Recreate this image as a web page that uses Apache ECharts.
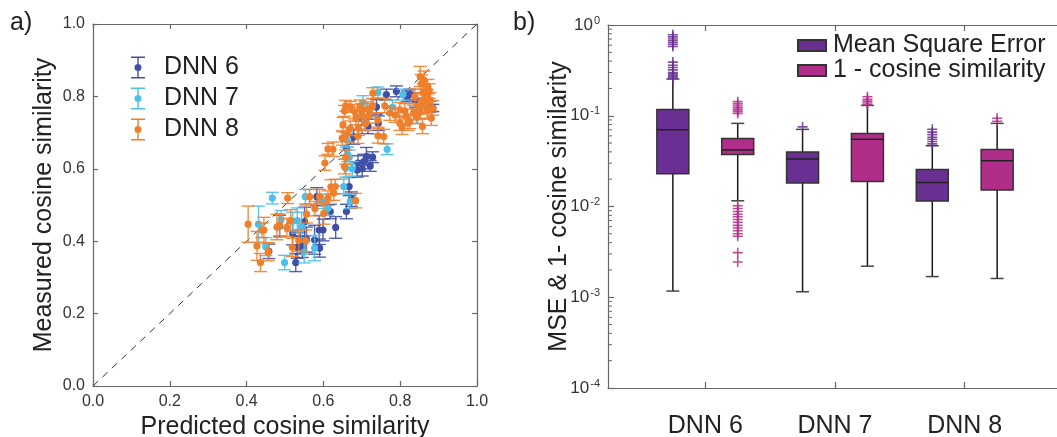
<!DOCTYPE html>
<html>
<head>
<meta charset="utf-8">
<script src="https://cdn.jsdelivr.net/npm/echarts@6/dist/echarts.min.js"></script>
<style>
html, body { margin: 0; padding: 0; background: #fff; }
#chart { width: 1057px; height: 437px; }
</style>
</head>
<body>
<div id="chart"></div>
<script>
// panel a) : [predicted, measured, error half-length]
const dnnNames = ['DNN 6', 'DNN 7', 'DNN 8'];
const dnn6 = [
  [0.486, 0.442, 0.03], [0.458, 0.372, 0.02], [0.528, 0.341, 0.025], [0.532, 0.383, 0.03],
  [0.540, 0.395, 0.03], [0.551, 0.454, 0.04], [0.556, 0.404, 0.035], [0.577, 0.404, 0.04],
  [0.589, 0.431, 0.04], [0.583, 0.523, 0.025], [0.599, 0.431, 0.03], [0.618, 0.482, 0.02],
  [0.632, 0.438, 0.03], [0.660, 0.482, 0.02], [0.673, 0.516, 0.02], [0.667, 0.551, 0.025],
  [0.688, 0.597, 0.02], [0.690, 0.616, 0.02], [0.701, 0.600, 0.02], [0.705, 0.620, 0.02],
  [0.712, 0.634, 0.025], [0.722, 0.608, 0.015], [0.660, 0.657, 0.02], [0.679, 0.688, 0.02],
  [0.716, 0.717, 0.02], [0.743, 0.726, 0.02], [0.738, 0.771, 0.02], [0.764, 0.805, 0.015],
  [0.790, 0.814, 0.015], [0.818, 0.800, 0.015], [0.825, 0.805, 0.015], [0.877, 0.772, 0.015],
  [0.885, 0.768, 0.01], [0.865, 0.775, 0.02], [0.840, 0.790, 0.02], [0.545, 0.385, 0.03],
  [0.590, 0.381, 0.025], [0.520, 0.420, 0.03], [0.700, 0.740, 0.02], [0.728, 0.632, 0.015]
];
const dnn7 = [
  [0.431, 0.447, 0.05], [0.467, 0.519, 0.016], [0.499, 0.341, 0.02], [0.532, 0.457, 0.035],
  [0.543, 0.440, 0.04], [0.577, 0.381, 0.035], [0.520, 0.455, 0.025], [0.450, 0.385, 0.025],
  [0.553, 0.523, 0.02], [0.612, 0.491, 0.02], [0.600, 0.510, 0.02], [0.653, 0.551, 0.02],
  [0.670, 0.510, 0.02], [0.658, 0.602, 0.025], [0.667, 0.632, 0.02], [0.675, 0.600, 0.02],
  [0.663, 0.640, 0.02], [0.708, 0.728, 0.02], [0.703, 0.782, 0.02], [0.742, 0.811, 0.015],
  [0.766, 0.654, 0.015], [0.807, 0.805, 0.015], [0.842, 0.745, 0.02], [0.720, 0.760, 0.02],
  [0.780, 0.770, 0.02], [0.860, 0.790, 0.02], [0.660, 0.680, 0.02], [0.490, 0.460, 0.025],
  [0.550, 0.370, 0.03], [0.700, 0.750, 0.02]
];
const dnn8 = [
  [0.404, 0.447, 0.05], [0.427, 0.387, 0.04], [0.436, 0.341, 0.025], [0.445, 0.431, 0.035],
  [0.456, 0.371, 0.025], [0.479, 0.439, 0.035], [0.486, 0.445, 0.03], [0.505, 0.438, 0.025],
  [0.507, 0.519, 0.015], [0.515, 0.457, 0.03], [0.519, 0.383, 0.025], [0.536, 0.402, 0.03],
  [0.554, 0.401, 0.03], [0.556, 0.475, 0.025], [0.564, 0.523, 0.02], [0.590, 0.523, 0.02],
  [0.601, 0.477, 0.03], [0.612, 0.519, 0.02], [0.627, 0.533, 0.02], [0.631, 0.551, 0.02],
  [0.684, 0.512, 0.02], [0.604, 0.616, 0.02], [0.612, 0.655, 0.015], [0.625, 0.654, 0.02],
  [0.655, 0.606, 0.02], [0.658, 0.632, 0.02], [0.660, 0.694, 0.02], [0.649, 0.685, 0.02],
  [0.651, 0.722, 0.02], [0.670, 0.712, 0.02], [0.691, 0.712, 0.02], [0.681, 0.758, 0.02],
  [0.658, 0.774, 0.015], [0.670, 0.771, 0.015], [0.719, 0.746, 0.02], [0.728, 0.774, 0.02],
  [0.729, 0.809, 0.015], [0.742, 0.735, 0.02], [0.742, 0.691, 0.02], [0.757, 0.689, 0.02],
  [0.760, 0.774, 0.02], [0.773, 0.754, 0.02], [0.799, 0.763, 0.02], [0.799, 0.726, 0.02],
  [0.816, 0.745, 0.02], [0.820, 0.726, 0.02], [0.825, 0.731, 0.02], [0.838, 0.800, 0.02],
  [0.851, 0.758, 0.02], [0.852, 0.855, 0.028], [0.858, 0.717, 0.02], [0.868, 0.795, 0.02],
  [0.872, 0.827, 0.02], [0.881, 0.740, 0.02], [0.885, 0.768, 0.02], [0.860, 0.810, 0.025],
  [0.865, 0.780, 0.025], [0.855, 0.835, 0.025], [0.875, 0.815, 0.02], [0.870, 0.760, 0.02],
  [0.845, 0.745, 0.02], [0.805, 0.715, 0.02], [0.700, 0.760, 0.02], [0.710, 0.725, 0.02],
  [0.690, 0.690, 0.02], [0.440, 0.430, 0.02], [0.620, 0.550, 0.02], [0.578, 0.490, 0.02],
  [0.848, 0.770, 0.02], [0.862, 0.845, 0.025], [0.835, 0.755, 0.02], [0.812, 0.760, 0.02],
  [0.787, 0.748, 0.02], [0.695, 0.770, 0.02], [0.685, 0.742, 0.02], [0.715, 0.765, 0.02],
  [0.655, 0.760, 0.015], [0.870, 0.800, 0.02], [0.858, 0.790, 0.02], [0.878, 0.790, 0.02]
];
const diagonal = [[0, 0], [1, 1]];

// panel b) : [min, Q1, median, Q3, max] per group
const groups = ['DNN 6', 'DNN 7', 'DNN 8'];
const boxNames = ['Mean Square Error', '1 - cosine similarity'];
const mseBoxes = [
  [0.00117, 0.023, 0.070, 0.117, 0.254],
  [0.00115, 0.0182, 0.0333, 0.0398, 0.0708],
  [0.00169, 0.0115, 0.0184, 0.0256, 0.0467]
];
const cosBoxes = [
  [0.01156, 0.0375, 0.0419, 0.0563, 0.0824],
  [0.0022, 0.0189, 0.055, 0.0639, 0.130],
  [0.00161, 0.0152, 0.0319, 0.0426, 0.0824]
];
const mseOutliers = [
  [0.78, 0.74, 0.70, 0.67, 0.64, 0.61, 0.58, 0.39, 0.36, 0.34, 0.32, 0.30, 0.29, 0.28, 0.27, 0.26],
  [0.0755],
  [0.071, 0.066, 0.062, 0.058, 0.055, 0.052, 0.049]
];
const cosOutliers = [
  [0.143, 0.135, 0.128, 0.122, 0.116, 0.111, 0.106,
   0.0102, 0.0095, 0.0088, 0.0082, 0.0077, 0.0072, 0.0067, 0.0062, 0.0058, 0.0054, 0.005, 0.0047,
   0.0031, 0.00245],
  [0.162, 0.152, 0.145, 0.138, 0.132],
  [0.094, 0.087]
];
const decadeTicks = [1e-4, 1e-3, 1e-2, 1e-1, 1];
const minorMantissas = [2, 3, 4, 5, 6, 7, 8, 9];

const dnnColors = ['#3f4fa6', '#4cc0e8', '#ef7f2b'];
const mseColor = '#6a2f92';
const cosColor = '#b02e8a';
const xMinB = -0.75, xMaxB = 2.75;

const errIcon = 'path://M0,0H14V1.5H0Z M6.3,0H7.7V22H6.3Z M0,20.5H14V22H0Z M3.5,11A3.5,3.5 0 1,1 10.5,11A3.5,3.5 0 1,1 3.5,11Z';
const plusIcon = 'path://M4.2,0H5.8V4.2H10V5.8H5.8V10H4.2V5.8H0V4.2H4.2Z';

function renderErr(params, api) {
  const x = api.value(0), y = api.value(1), e = api.value(2);
  const c = api.coord([x, y]);
  const top = api.coord([x, y + e]);
  const bot = api.coord([x, y - e]);
  const color = api.visual('color');
  const hw = 6.5;
  const st = { stroke: color, lineWidth: 1.4, opacity: 0.9 };
  return {
    type: 'group',
    children: [
      { type: 'line', shape: { x1: c[0], y1: top[1], x2: c[0], y2: bot[1] }, style: st },
      { type: 'line', shape: { x1: c[0] - hw, y1: top[1], x2: c[0] + hw, y2: top[1] }, style: st },
      { type: 'line', shape: { x1: c[0] - hw, y1: bot[1], x2: c[0] + hw, y2: bot[1] }, style: st },
      { type: 'circle', shape: { cx: c[0], cy: c[1], r: 3.6 }, style: { fill: color } }
    ]
  };
}

function renderBox(params, api) {
  const x = api.value(0);
  const pMin = api.coord([x, api.value(1)]);
  const pQ1 = api.coord([x, api.value(2)]);
  const pMed = api.coord([x, api.value(3)]);
  const pQ3 = api.coord([x, api.value(4)]);
  const pMax = api.coord([x, api.value(5)]);
  const cx = pMin[0], hw = 16, cw = 6.5;
  const wl = { stroke: '#1a1a1a', lineWidth: 1.5 };
  const cap = { stroke: '#444', lineWidth: 1.5 };
  return {
    type: 'group',
    children: [
      { type: 'line', shape: { x1: cx, y1: pMax[1], x2: cx, y2: pQ3[1] }, style: wl },
      { type: 'line', shape: { x1: cx, y1: pQ1[1], x2: cx, y2: pMin[1] }, style: wl },
      { type: 'line', shape: { x1: cx - cw, y1: pMax[1], x2: cx + cw, y2: pMax[1] }, style: cap },
      { type: 'line', shape: { x1: cx - cw, y1: pMin[1], x2: cx + cw, y2: pMin[1] }, style: cap },
      { type: 'rect', shape: { x: cx - hw, y: pQ3[1], width: 2 * hw, height: pQ1[1] - pQ3[1] },
        style: { fill: api.visual('color'), stroke: '#333', lineWidth: 1.5 } },
      { type: 'line', shape: { x1: cx - hw, y1: pMed[1], x2: cx + hw, y2: pMed[1] }, style: { stroke: '#222', lineWidth: 1.5 } }
    ]
  };
}

function renderMinorTick(params, api) {
  const p = api.coord([api.value(0), api.value(1)]);
  return { type: 'line', shape: { x1: p[0], y1: p[1], x2: p[0] + 4, y2: p[1] }, style: { stroke: '#666', lineWidth: 1 } };
}

const minorTickData = [];
decadeTicks.slice(0, -1).forEach(d => minorMantissas.forEach(m => minorTickData.push([xMinB, m * d])));

const boxData = (boxes, off) => boxes.map((b, g) => [g + off].concat(b));
const outlierData = (outs, off) => {
  const r = [];
  outs.forEach((list, g) => list.forEach(v => r.push([g + off, v])));
  return r;
};

const chart = echarts.init(document.getElementById('chart'));
const axisLineStyle = { color: '#666', width: 1.2 };
const labelStyle = { color: '#333', fontSize: 16, fontFamily: 'Liberation Sans' };
const nameStyle = { color: '#222', fontSize: 25, fontFamily: 'Liberation Sans' };

const linAxis = (pos, gridIndex, withLabel, name) => ({
  type: 'value', gridIndex, position: pos, min: 0, max: 1, interval: 0.2,
  axisLine: { show: true, onZero: false, lineStyle: axisLineStyle },
  axisTick: { show: true, inside: true, length: 5, lineStyle: axisLineStyle },
  axisLabel: { show: withLabel, formatter: v => v.toFixed(1), margin: 8, ...labelStyle },
  splitLine: { show: false },
  name: name || '', nameLocation: 'middle', nameTextStyle: nameStyle
});

const option = {
  backgroundColor: '#fff',
  animation: false,
  textStyle: { fontFamily: 'Liberation Sans' },
  title: [
    { text: 'a)', left: 10, top: 11, padding: 0, textStyle: { fontSize: 25, fontWeight: 'normal', color: '#222' } },
    { text: 'b)', left: 513, top: 11, padding: 0, textStyle: { fontSize: 25, fontWeight: 'normal', color: '#222' } }
  ],
  legend: [
    {
      data: dnnNames.map(n => ({ name: n, icon: errIcon })),
      orient: 'vertical', left: 126, top: 50, itemWidth: 14, itemHeight: 22, itemGap: 6,
      textStyle: { fontSize: 25, color: '#222', padding: [0, 0, 0, 14] }
    },
    {
      data: boxNames.map(n => ({ name: n, icon: 'rect' })),
      orient: 'vertical', left: 792, top: 28, itemWidth: 28, itemHeight: 11, itemGap: 0,
      textStyle: { fontSize: 25, color: '#222', padding: [0, 0, 0, 2] }
    }
  ],
  grid: [
    { left: 93, top: 24, width: 384, height: 362, containLabel: false, outerBoundsMode: 'none' },
    { left: 608, top: 25, width: 454, height: 363, containLabel: false, outerBoundsMode: 'none' }
  ],
  xAxis: [
    Object.assign(linAxis('bottom', 0, true, 'Predicted cosine similarity'), { nameGap: 27 }),
    linAxis('top', 0, false),
    {
      type: 'value', gridIndex: 1, position: 'bottom', min: xMinB, max: xMaxB,
      axisLine: { show: true, onZero: false, lineStyle: axisLineStyle },
      axisTick: { show: true, inside: true, length: 6, customValues: [0, 1, 2], lineStyle: axisLineStyle },
      axisLabel: { customValues: [0, 1, 2], formatter: v => groups[Math.round(v)], margin: 26, fontSize: 25, color: '#222' },
      splitLine: { show: false }
    },
    {
      type: 'value', gridIndex: 1, position: 'top', min: xMinB, max: xMaxB,
      axisLine: { show: true, onZero: false, lineStyle: axisLineStyle },
      axisTick: { show: true, inside: true, length: 6, customValues: [0, 1, 2], lineStyle: axisLineStyle },
      axisLabel: { show: false },
      splitLine: { show: false }
    }
  ],
  yAxis: [
    Object.assign(linAxis('left', 0, true, 'Measured cosine similarity'), { nameGap: 36 }),
    linAxis('right', 0, false),
    {
      type: 'log', logBase: 10, gridIndex: 1, position: 'left', min: 1e-4, max: 1,
      axisLine: { show: true, onZero: false, lineStyle: axisLineStyle },
      axisTick: { show: true, inside: true, length: 6, lineStyle: axisLineStyle },
      axisLabel: {
        margin: 8, color: '#333', fontSize: 17,
        formatter: v => '10{sup|' + Math.round(Math.log10(v)) + '}',
        rich: { sup: { fontSize: 11, color: '#333', padding: [0, 0, 9, 1] } }
      },
      splitLine: { show: false },
      name: 'MSE & 1- cosine similarity', nameLocation: 'middle', nameGap: 36, nameMoveOverlap: false,
      nameTextStyle: nameStyle
    }
  ],
  series: [
    {
      type: 'line', data: diagonal, xAxisIndex: 0, yAxisIndex: 0, symbol: 'none', silent: true,
      lineStyle: { color: '#333', width: 1, type: [7, 6] }, z: 1
    },
    { name: 'DNN 6', type: 'custom', data: dnn6, renderItem: renderErr, xAxisIndex: 0, yAxisIndex: 0,
      encode: { x: 0, y: 1 }, itemStyle: { color: dnnColors[0] }, z: 2 },
    { name: 'DNN 7', type: 'custom', data: dnn7, renderItem: renderErr, xAxisIndex: 0, yAxisIndex: 0,
      encode: { x: 0, y: 1 }, itemStyle: { color: dnnColors[1] }, z: 3 },
    { name: 'DNN 8', type: 'custom', data: dnn8, renderItem: renderErr, xAxisIndex: 0, yAxisIndex: 0,
      encode: { x: 0, y: 1 }, itemStyle: { color: dnnColors[2] }, z: 4 },
    { name: boxNames[0], type: 'custom', data: boxData(mseBoxes, -0.25), renderItem: renderBox,
      xAxisIndex: 2, yAxisIndex: 2, encode: { x: 0, y: [1, 2, 3, 4, 5] },
      itemStyle: { color: mseColor, borderColor: '#333', borderWidth: 1.5 } },
    { name: boxNames[1], type: 'custom', data: boxData(cosBoxes, 0.25), renderItem: renderBox,
      xAxisIndex: 2, yAxisIndex: 2, encode: { x: 0, y: [1, 2, 3, 4, 5] },
      itemStyle: { color: cosColor, borderColor: '#333', borderWidth: 1.5 } },
    { name: 'MSE outliers', type: 'scatter', data: outlierData(mseOutliers, -0.25), xAxisIndex: 2, yAxisIndex: 2,
      symbol: plusIcon, symbolSize: 10, itemStyle: { color: mseColor, opacity: 0.85 } },
    { name: 'cos outliers', type: 'scatter', data: outlierData(cosOutliers, 0.25), xAxisIndex: 2, yAxisIndex: 2,
      symbol: plusIcon, symbolSize: 10, itemStyle: { color: cosColor, opacity: 0.85 } },
    { name: 'minor ticks', type: 'custom', data: minorTickData, renderItem: renderMinorTick,
      xAxisIndex: 2, yAxisIndex: 2, encode: { x: 0, y: 1 }, silent: true, z: 10 }
  ]
};
chart.setOption(option);
</script>
</body>
</html>
